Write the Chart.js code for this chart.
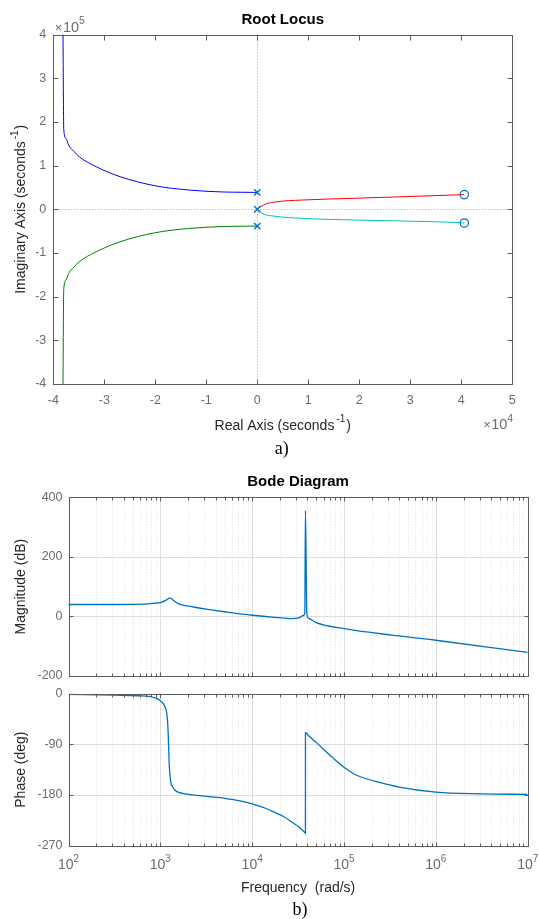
<!DOCTYPE html>
<html>
<head>
<meta charset="utf-8">
<title>Root Locus / Bode Diagram</title>
<script src="https://cdn.jsdelivr.net/npm/chart.js@4.4.1/dist/chart.umd.min.js"></script>
<style>
  html, body { margin: 0; padding: 0; background: #fff; }
  #page { position: relative; width: 539px; height: 919px; overflow: hidden; }
  canvas { position: absolute; left: 0; }
</style>
</head>
<body>
<div id="page">
  <canvas id="rootLocus" width="539" height="460" style="top:0px"></canvas>
  <canvas id="bodeMag" width="539" height="230" style="top:460px"></canvas>
  <canvas id="bodePhase" width="539" height="239" style="top:680px"></canvas>
</div>
<script>
// ---- Root locus branches (real / imaginary parts, seconds^-1) ----
var blueRe  = [0, -3000, -6700, -13400, -20100, -26900, -31600, -34900, -36000, -37000, -37500, -37950, -38110];
var blueIm  = [38500, 38900, 39500, 44000, 53900, 74500, 97400, 120000, 133000, 147000, 162000, 183000, 420000];
var greenRe = [0, -3000, -6700, -13400, -20100, -26900, -31600, -34900, -36000, -37000, -37500, -37950, -38110];
var greenIm = [-38500, -38900, -39500, -44000, -53900, -74500, -97400, -120000, -133000, -147000, -162000, -183000, -420000];
var redRe   = [0, 1180, 3140, 9000, 18800, 28600, 38400, 40600];
var redIm   = [0, 9700, 15900, 21200, 25000, 28700, 32600, 33500];
var cyanRe  = [0, 1180, 3140, 9000, 18800, 28600, 38400, 40600];
var cyanIm  = [0, -10900, -15500, -21000, -24600, -27000, -30000, -31500];
var poleRe  = [0, 0, 0];
var poleIm  = [38500, 0, -38500];
var zeroRe  = [40600, 40600];
var zeroIm  = [33500, -31500];

// ---- Bode data (rad/s, dB, deg) ----
var magFreq = [100, 316, 631, 863, 1026, 1167, 1274, 1390, 1581, 2239, 3162, 5623, 10000, 17780, 27160, 32280, 35810, 37410, 38020, 39360, 41780, 49770, 100000, 1000000, 10000000];
var magDb   = [40, 40, 41, 44.6, 47.6, 55.5, 62.6, 53.6, 42.4, 32.5, 24.5, 13.5, 4, -3, -7.5, -5, 2.5, 13, 355, 9, -7.8, -21, -41, -80, -121];
var phaseFreq = [100, 316, 562, 863, 1026, 1117, 1186, 1216, 1250, 1294, 1365, 1445, 1585, 1875, 3148, 5012, 7413, 10000, 14125, 17660, 22390, 27160, 32360, 37410, 38000, 38040, 41690, 49770, 70790, 100000, 125900, 158500, 234400, 398100, 1000000, 3162000, 10000000];
var phaseDeg  = [-1.7, -3, -4, -7.5, -14.4, -23, -40.4, -69, -127, -156, -166, -171.7, -175.5, -178, -182.6, -186, -190.5, -196, -204, -211, -219, -228.4, -237, -246.8, -248, -69.4, -76, -86.7, -110, -131, -142, -149, -157, -166, -175, -178, -179];

// ---- Tick labels ----
var locusXTicks = [-4, -3, -2, -1, 0, 1, 2, 3, 4, 5];      // x 10^4
var locusYTicks = [-4, -3, -2, -1, 0, 1, 2, 3, 4];         // x 10^5
var magTicks    = [-200, 0, 200, 400];
var phaseTicks  = [-270, -180, -90, 0];
var decadeExps  = [2, 3, 4, 5, 6, 7];

var SANS = "'Liberation Sans', Arial, Helvetica, sans-serif";
var SERIF = "'Liberation Serif', 'Times New Roman', serif";
var TICK_COLOR = '#6b6b6b';
var LABEL_COLOR = '#262626';
var AXIS_COLOR = '#5c5c5c';
var MATLAB_BLUE = '#0072BD';

function toPoints(xs, ys) {
    return xs.map(function (x, i) { return { x: x, y: ys[i] }; });
}

function isDecade(v) {
    var l = Math.log10(v);
    return Math.abs(l - Math.round(l)) < 1e-9;
}

// draw a row of text pieces (used for superscripts) on one baseline
function drawRun(ctx, pieces, x, y, align) {
    var total = 0;
    pieces.forEach(function (p) {
        ctx.font = p.font;
        total += ctx.measureText(p.text).width + (p.gap || 0);
    });
    var cx = align === 'center' ? x - total / 2 : (align === 'right' ? x - total : x);
    ctx.textAlign = 'left';
    ctx.textBaseline = 'alphabetic';
    pieces.forEach(function (p) {
        ctx.font = p.font;
        ctx.fillStyle = p.color;
        cx += (p.gap || 0);
        ctx.fillText(p.text, cx, y + (p.dy || 0));
        cx += ctx.measureText(p.text).width;
    });
}

function drawRotated(ctx, pieces, x, y) {
    ctx.save();
    ctx.translate(x, y);
    ctx.rotate(-Math.PI / 2);
    drawRun(ctx, pieces, 0, 0, 'center');
    ctx.restore();
}

// MATLAB-like axes box: grid, dotted zero lines, inward ticks, extra texts
function matlabAxes(cfg) {
    return {
        id: 'matlabAxes',
        beforeDatasetsDraw: function (chart) {
            var ctx = chart.ctx, a = chart.chartArea;
            var xs = chart.scales.x, ys = chart.scales.y;
            ctx.save();
            ctx.lineWidth = 1;
            if (cfg.logGrid) {
                xs.ticks.forEach(function (t) {
                    var px = Math.round(xs.getPixelForValue(t.value)) + 0.5;
                    if (px <= a.left + 1 || px >= a.right - 1) return;
                    var major = isDecade(t.value);
                    ctx.strokeStyle = major ? '#dedede' : '#e0e0e0';
                    ctx.setLineDash(major ? [] : [1, 2]);
                    ctx.beginPath();
                    ctx.moveTo(px, a.top);
                    ctx.lineTo(px, a.bottom);
                    ctx.stroke();
                });
                ctx.setLineDash([]);
                ctx.strokeStyle = '#dedede';
                ys.ticks.forEach(function (t) {
                    var py = Math.round(ys.getPixelForValue(t.value)) + 0.5;
                    if (py <= a.top + 1 || py >= a.bottom - 1) return;
                    ctx.beginPath();
                    ctx.moveTo(a.left, py);
                    ctx.lineTo(a.right, py);
                    ctx.stroke();
                });
            }
            if (cfg.zeroLines) {
                // dotted lines through the origin
                ctx.strokeStyle = '#a8a8a8';
                ctx.setLineDash([1, 2]);
                var x0 = Math.round(xs.getPixelForValue(0)) + 0.5;
                var y0 = Math.round(ys.getPixelForValue(0)) + 0.5;
                ctx.beginPath();
                ctx.moveTo(x0, a.top);
                ctx.lineTo(x0, a.bottom);
                ctx.moveTo(a.left, y0);
                ctx.lineTo(a.right, y0);
                ctx.stroke();
            }
            ctx.restore();
        },
        afterDatasetsDraw: function (chart) {
            var ctx = chart.ctx, a = chart.chartArea;
            var xs = chart.scales.x, ys = chart.scales.y;
            var l = Math.round(a.left) + 0.5, r = Math.round(a.right) + 0.5;
            var t = Math.round(a.top) + 0.5, b = Math.round(a.bottom) + 0.5;
            ctx.save();
            ctx.strokeStyle = AXIS_COLOR;
            ctx.lineWidth = 1;
            ctx.beginPath();
            xs.ticks.forEach(function (tk) {
                var px = Math.round(xs.getPixelForValue(tk.value)) + 0.5;
                var len = (cfg.logGrid && !isDecade(tk.value)) ? cfg.minorLen : cfg.tickLen;
                ctx.moveTo(px, b); ctx.lineTo(px, b - len);
                ctx.moveTo(px, t); ctx.lineTo(px, t + len);
            });
            ys.ticks.forEach(function (tk) {
                var py = Math.round(ys.getPixelForValue(tk.value)) + 0.5;
                ctx.moveTo(l, py); ctx.lineTo(l + cfg.tickLen, py);
                ctx.moveTo(r, py); ctx.lineTo(r - cfg.tickLen, py);
            });
            ctx.stroke();
            ctx.strokeRect(l, t, r - l, b - t);
            ctx.restore();
        },
        afterDraw: function (chart) {
            chart.ctx.save();
            cfg.labels(chart.ctx, chart);
            chart.ctx.restore();
        }
    };
}

function fixedTicks(values, factor) {
    return function (axis) {
        axis.ticks = values.map(function (v) { return { value: v * factor }; });
    };
}

function logTicks(axis) {
    var list = [];
    decadeExps.forEach(function (e, i) {
        if (i === decadeExps.length - 1) { list.push(Math.pow(10, e)); return; }
        for (var m = 1; m <= 9; m++) list.push(m * Math.pow(10, e));
    });
    axis.ticks = list.map(function (v) { return { value: v }; });
}

var tickFont = { family: SANS, size: 12.5 };
var baseOptions = {
    responsive: false,
    animation: false,
    devicePixelRatio: 1,
    plugins: { legend: { display: false }, tooltip: { enabled: false } }
};

function lineSet(points, color, width) {
    return {
        data: points,
        showLine: true,
        borderColor: color,
        borderWidth: width,
        pointRadius: 0,
        cubicInterpolationMode: 'monotone',
        fill: false
    };
}

// ---------------- Root locus ----------------
new Chart(document.getElementById('rootLocus'), {
    type: 'scatter',
    data: {
        datasets: [
            {
                data: toPoints(poleRe, poleIm),
                pointStyle: 'crossRot',
                pointRadius: 4.5,
                pointBorderWidth: 1.4,
                pointBorderColor: MATLAB_BLUE,
                pointBackgroundColor: 'rgba(0,0,0,0)'
            },
            {
                data: toPoints(zeroRe, zeroIm),
                pointStyle: 'circle',
                pointRadius: 4.2,
                pointBorderWidth: 1.2,
                pointBorderColor: MATLAB_BLUE,
                pointBackgroundColor: 'rgba(0,0,0,0)'
            },
            lineSet(toPoints(blueRe, blueIm), '#0000ff', 1),
            lineSet(toPoints(greenRe, greenIm), '#008000', 1),
            lineSet(toPoints(redRe, redIm), '#ff0000', 1),
            lineSet(toPoints(cyanRe, cyanIm), '#00bfbf', 1)
        ]
    },
    options: Object.assign({}, baseOptions, {
        layout: { padding: { top: 34.5, right: 26.8, bottom: 0, left: 0 } },
        scales: {
            x: {
                type: 'linear', min: -40000, max: 50000,
                afterBuildTicks: fixedTicks(locusXTicks, 1e4),
                afterFit: function (s) { s.height = 76; },
                grid: { display: false, drawTicks: false, tickLength: 0 },
                border: { display: false },
                ticks: { font: tickFont, color: TICK_COLOR, padding: 9, maxRotation: 0,
                    callback: function (v) { return String(Math.round(v / 1e4)); } }
            },
            y: {
                type: 'linear', min: -400000, max: 400000,
                afterBuildTicks: fixedTicks(locusYTicks, 1e5),
                afterFit: function (s) { s.width = 53.3; },
                grid: { display: false, drawTicks: false, tickLength: 0 },
                border: { display: false },
                ticks: { font: tickFont, color: TICK_COLOR, padding: 7,
                    callback: function (v) { return String(Math.round(v / 1e5)); } }
            }
        }
    }),
    plugins: [matlabAxes({
        zeroLines: true, tickLen: 5,
        labels: function (ctx, chart) {
            var a = chart.chartArea, mid = (a.left + a.right) / 2;
            drawRun(ctx, [{ text: 'Root Locus', font: 'bold 15px ' + SANS, color: '#000' }], mid, 23.5, 'center');
            drawRun(ctx, [
                { text: '\u00d7', font: '13px ' + SANS, color: TICK_COLOR },
                { text: '10', font: '14.5px ' + SANS, color: TICK_COLOR, gap: 0.5 },
                { text: '5', font: '10.5px ' + SANS, color: TICK_COLOR, dy: -8 }
            ], a.left + 1.5, 31.5, 'left');
            drawRun(ctx, [
                { text: '\u00d7', font: '13px ' + SANS, color: TICK_COLOR },
                { text: '10', font: '14.5px ' + SANS, color: TICK_COLOR, gap: 0.5 },
                { text: '4', font: '10.5px ' + SANS, color: TICK_COLOR, dy: -7 }
            ], a.right + 1, 429, 'right');
            drawRun(ctx, [
                { text: 'Real Axis (seconds', font: '14px ' + SANS, color: LABEL_COLOR },
                { text: '-1', font: '10px ' + SANS, color: LABEL_COLOR, dy: -7.5, gap: 2 },
                { text: ')', font: '14px ' + SANS, color: LABEL_COLOR, gap: 1 }
            ], mid, 429.5, 'center');
            drawRotated(ctx, [
                { text: 'Imaginary Axis (seconds', font: '14px ' + SANS, color: LABEL_COLOR },
                { text: '-1', font: '10px ' + SANS, color: LABEL_COLOR, dy: -7.5, gap: 2 },
                { text: ')', font: '14px ' + SANS, color: LABEL_COLOR, gap: 1 }
            ], 25, (a.top + a.bottom) / 2);
            drawRun(ctx, [{ text: 'a)', font: '18px ' + SERIF, color: '#000' }], 281.7, 454, 'center');
        }
    })]
});

// ---------------- Bode magnitude ----------------
new Chart(document.getElementById('bodeMag'), {
    type: 'scatter',
    data: { datasets: [lineSet(toPoints(magFreq, magDb), MATLAB_BLUE, 1.3)] },
    options: Object.assign({}, baseOptions, {
        layout: { padding: { top: 37.3, right: 11.3, bottom: 0, left: 0 } },
        scales: {
            x: {
                type: 'logarithmic', min: 100, max: 1e7,
                afterBuildTicks: logTicks,
                afterFit: function (s) { s.height = 14; },
                grid: { display: false, drawTicks: false, tickLength: 0 },
                border: { display: false },
                ticks: { display: false }
            },
            y: {
                type: 'linear', min: -200, max: 400,
                afterBuildTicks: fixedTicks(magTicks, 1),
                afterFit: function (s) { s.width = 68.5; },
                grid: { display: false, drawTicks: false, tickLength: 0 },
                border: { display: false },
                ticks: { font: tickFont, color: TICK_COLOR, padding: 6 }
            }
        }
    }),
    plugins: [matlabAxes({
        logGrid: true, tickLen: 4, minorLen: 3,
        labels: function (ctx, chart) {
            var a = chart.chartArea, mid = (a.left + a.right) / 2;
            drawRun(ctx, [{ text: 'Bode Diagram', font: 'bold 15px ' + SANS, color: '#000' }], mid, 25.5, 'center');
            drawRotated(ctx, [{ text: 'Magnitude (dB)', font: '14px ' + SANS, color: LABEL_COLOR }],
                25, (a.top + a.bottom) / 2);
        }
    })]
});

// ---------------- Bode phase ----------------
new Chart(document.getElementById('bodePhase'), {
    type: 'scatter',
    data: { datasets: [lineSet(toPoints(phaseFreq, phaseDeg), MATLAB_BLUE, 1.3)] },
    options: Object.assign({}, baseOptions, {
        layout: { padding: { top: 10, right: 11.3, bottom: 0, left: 0 } },
        scales: {
            x: {
                type: 'logarithmic', min: 100, max: 1e7,
                afterBuildTicks: logTicks,
                afterFit: function (s) { s.height = 73.3; },
                grid: { display: false, drawTicks: false, tickLength: 0 },
                border: { display: false },
                ticks: { display: false }
            },
            y: {
                type: 'linear', min: -270, max: 0,
                afterBuildTicks: fixedTicks(phaseTicks, 1),
                afterFit: function (s) { s.width = 68.5; },
                grid: { display: false, drawTicks: false, tickLength: 0 },
                border: { display: false },
                ticks: { font: tickFont, color: TICK_COLOR, padding: 6 }
            }
        }
    }),
    plugins: [matlabAxes({
        logGrid: true, tickLen: 4, minorLen: 3,
        labels: function (ctx, chart) {
            var a = chart.chartArea, xs = chart.scales.x;
            // decade labels 10^n placed through the log scale
            decadeExps.forEach(function (e) {
                drawRun(ctx, [
                    { text: '10', font: '14px ' + SANS, color: TICK_COLOR },
                    { text: String(e), font: '10px ' + SANS, color: TICK_COLOR, dy: -7 }
                ], xs.getPixelForValue(Math.pow(10, e)), 189, 'center');
            });
            drawRun(ctx, [{ text: 'Frequency  (rad/s)', font: '14px ' + SANS, color: LABEL_COLOR }],
                (a.left + a.right) / 2, 211.5, 'center');
            drawRotated(ctx, [{ text: 'Phase (deg)', font: '14px ' + SANS, color: LABEL_COLOR }],
                25, (a.top + a.bottom) / 2);
            drawRun(ctx, [{ text: 'b)', font: '18px ' + SERIF, color: '#000' }], 300, 234.5, 'center');
        }
    })]
});
</script>
</body>
</html>
